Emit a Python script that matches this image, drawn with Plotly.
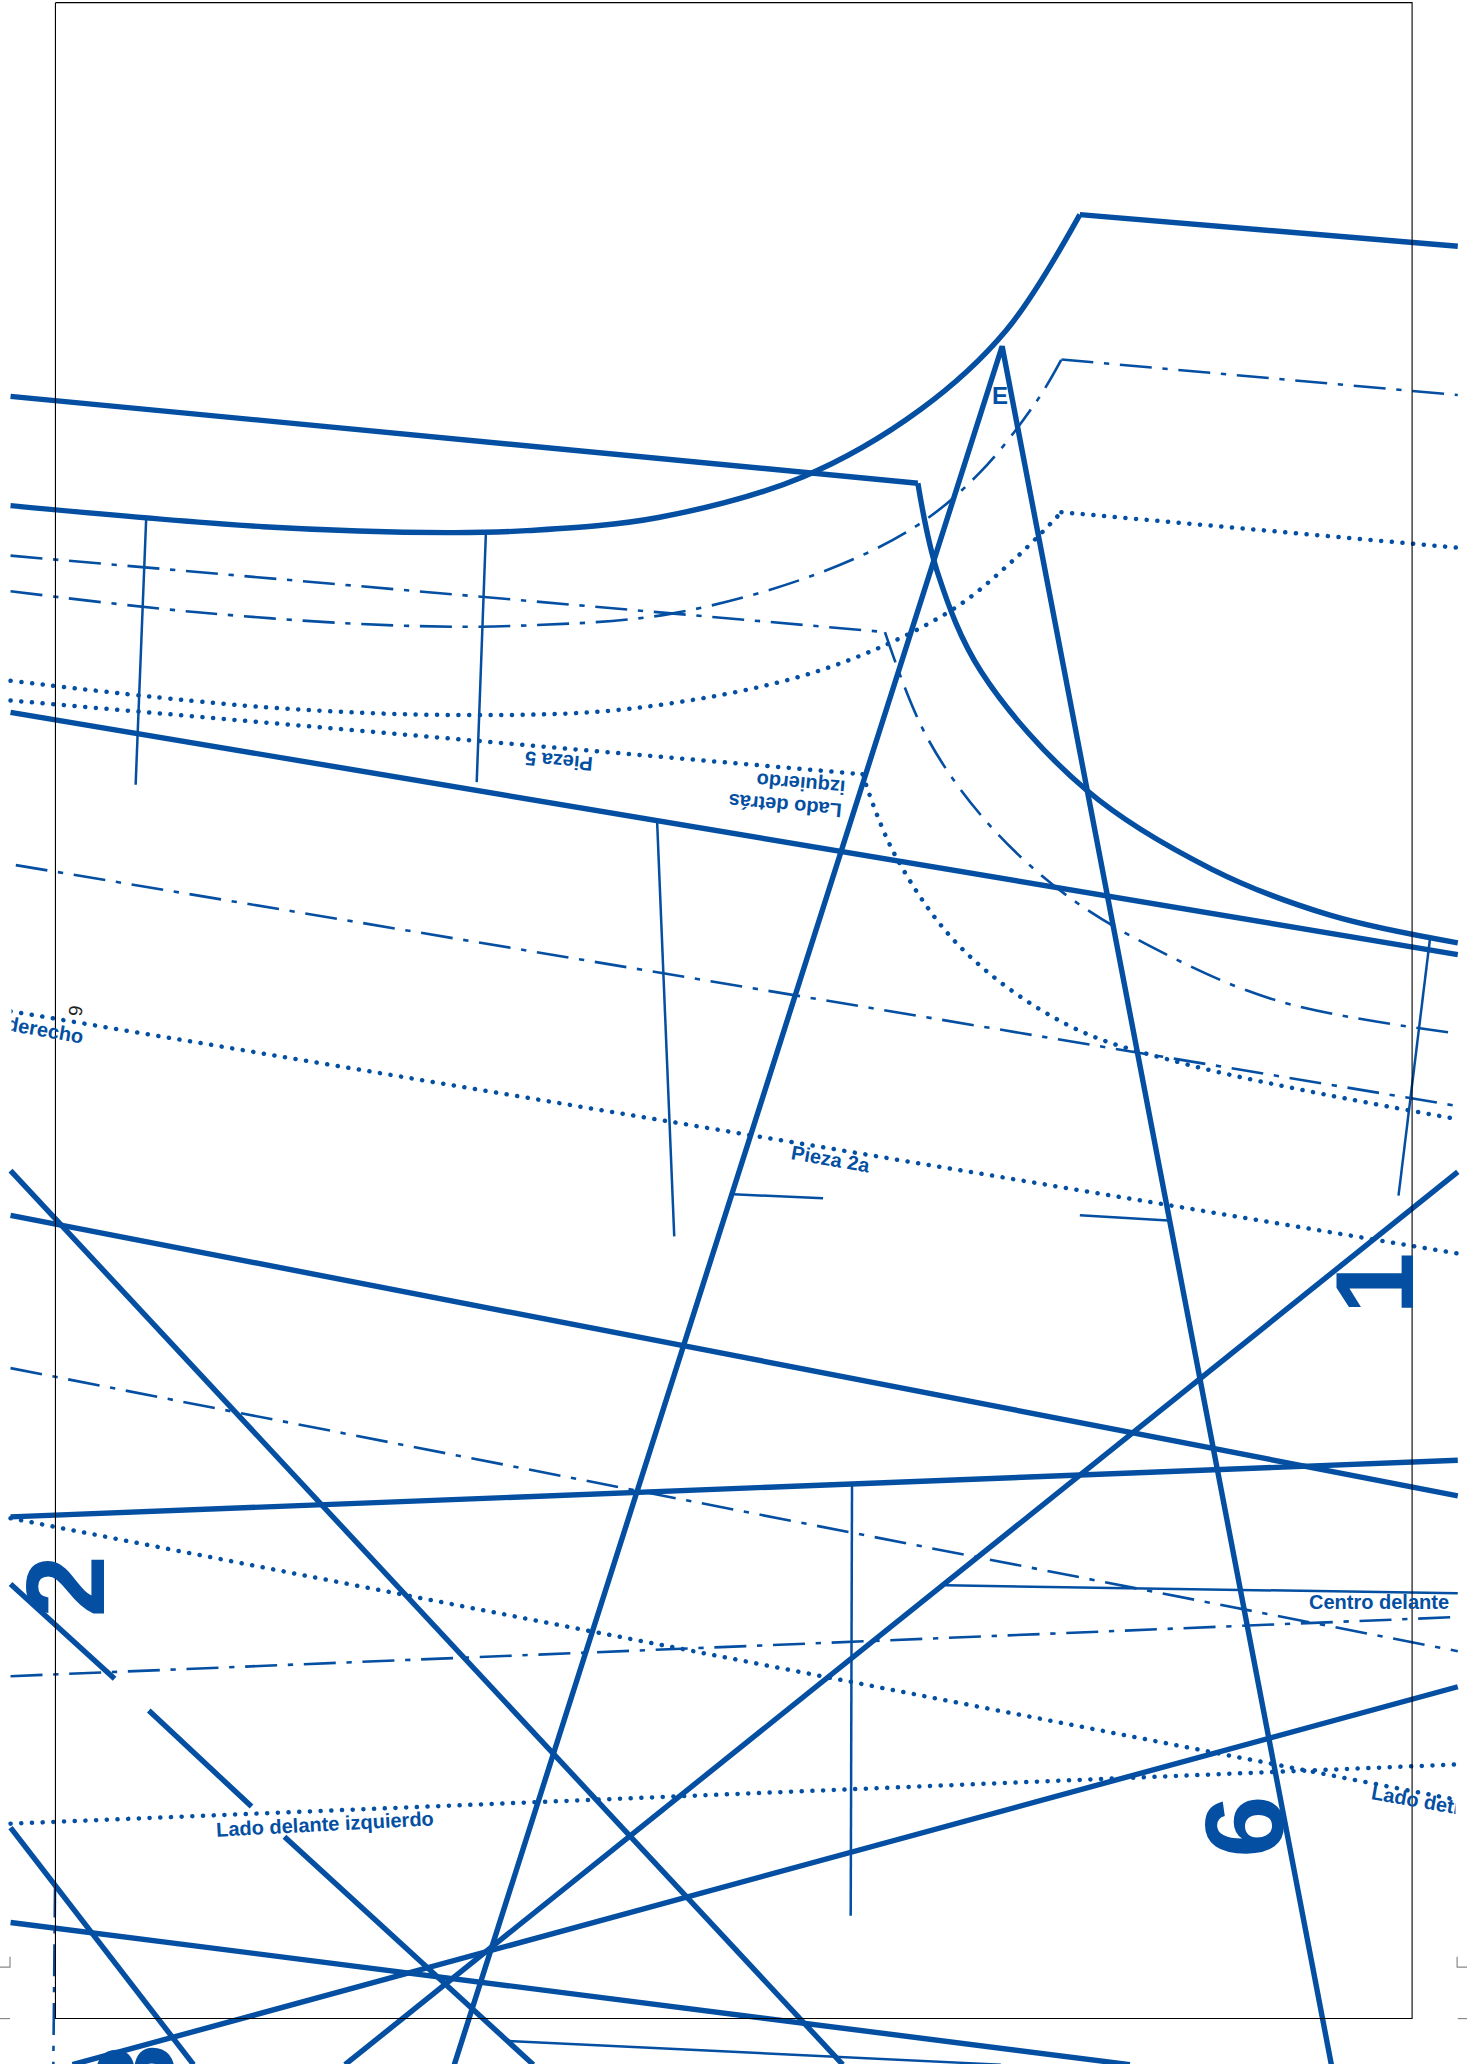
import plotly.graph_objects as go

BLUE = "#044fa2"
WIDTH, HEIGHT = 1467, 2064
X_MAX, Y_MAX = 1114.0, 1567.5

# Solid heavy straight lines: (x values, y values)
heavy_lines = [
    ([1107, 820], [187, 163]),
    ([8, 697], [301, 367]),
    ([8, 1107], [541, 725]),
    ([345, 761, 1011], [1568, 263, 1568]),
    ([8, 1107], [923, 1136]),
    ([8, 640], [889, 1568]),
    ([8, 1107], [1152, 1109]),
    ([1107, 262], [890, 1568]),
    ([1107, 55], [1281, 1568]),
    ([8, 87], [1203, 1275]),
    ([113, 191], [1299, 1372]),
    ([216, 405], [1395, 1568]),
    ([8, 147], [1388, 1568]),
    ([8, 858], [1460, 1568]),
]
# Solid heavy curves
heavy_curves = [
    ([820, 764, 699, 610, 500, 400, 340, 200, 8],
     [163, 251, 311, 362, 393, 403, 404.5, 400, 384]),
    ([697, 712, 745, 825, 920, 1010, 1107],
     [367, 435, 510, 600, 660, 695, 716]),
]

# Thin marker lines
thin_lines = [
    ([111, 103], [394, 596]),
    ([369, 362], [404, 594]),
    ([499, 512], [624, 939]),
    ([557, 625], [907, 910]),
    ([820, 887], [923, 927]),
    ([1086, 1062], [712, 908]),
    ([718, 1107], [1204, 1210]),
    ([647, 646], [1128, 1455]),
    ([385, 760], [1550, 1568]),
]

# Dash-dot seam lines
dashdot_lines = [
    ([8, 672], [422, 480]),
    ([806, 1107], [273, 300]),
    ([12, 1107], [657, 840]),
    ([8, 1107], [1039, 1254]),
    ([8, 1107], [1273, 1228]),
    ([41.8, 40.5], [1432, 1568]),
]
dashdot_curves = [
    ([672, 704, 750, 810, 880, 970, 1107],
     [480, 560, 625, 680, 722, 760, 785]),
    ([8, 150, 300, 400, 510, 620, 695, 744, 787, 806],
     [449, 465, 475, 475, 466, 436, 400, 359, 305, 273]),
]

# Dotted seam lines
dotted_lines = [
    ([806, 1107], [389, 416]),
    ([8, 655], [532, 588]),
    ([8, 1107], [768, 952]),
    ([8, 1107], [1153, 1367]),
    ([8, 1107], [1385, 1340]),
]
dotted_curves = [
    ([8, 200, 350, 480, 620, 720, 770, 806],
     [517, 537, 543, 538, 510, 465, 425, 389]),
    ([655, 680, 730, 810, 900, 1107],
     [588, 650, 720, 778, 808, 850]),
]

# Sheet frame and crop marks
frame_x = [42.1, 1072.3, 1072.3, 42.1, 42.1]
frame_y = [2, 2, 1533, 1533, 2]
crop_marks = [
    ([0, 7.6, 7.6], [1494, 1494, 1486]),
    ([1114, 1106.5, 1106.5], [1494, 1494, 1486]),
    ([0, 7.6], [1533, 1533]),
    ([1107, 1114], [1533, 1533]),
]

# Labels
label_text = ["Pieza 5", "izquierdo", "Lado detrás", "Pieza 2a", "derecho", "6",
              "Lado delante izquierdo", "Centro delante", "Lado detr", "E",
              "1", "2", "6", "3"]
label_x = [424, 608, 596, 631, 34.5, 57.5, 247, 1047, 1075.5, 759, 1044, 50, 945, 103]
label_y = [578, 595, 612, 880, 782, 768, 1385, 1217, 1367, 300, 975, 1205, 1387, 1567]
label_shift = [0, 0, 0, 0, 0, 0, 0, 0, 0, 0, 0, 0, 0, -12]
label_size = [20, 20, 20, 20, 20, 19, 20, 20, 20, 24, 112, 112, 112, 112]
label_angle = [185, 185, 185, 10, 10, 97, -3, 0, 10, 0, -90, -90, -90, -90]
label_bold = [True] * 5 + [False] + [True] * 8
label_color = [BLUE] * 5 + ["#222222"] + [BLUE] * 8

# White strips that trim labels running past the sheet's cut edges
trim_x = [3.5, 1110.5]
trim_y = [780, 1372]

fig = go.Figure()


def add(lines, width, dash="solid", color=BLUE, shape="linear"):
    for xs, ys in lines:
        fig.add_trace(go.Scatter(
            x=xs, y=ys, mode="lines", hoverinfo="skip",
            line=dict(color=color, width=width, dash=dash, shape=shape,
                      smoothing=1.0 if shape == "spline" else None)))


DOT = "0.1px,10.6px"
DASH = "32px,10.7px,5.3px,10.7px"
add(crop_marks, 1.2, color="#888888")
add(dotted_lines, 4.5, DOT)
add(dotted_curves, 4.5, DOT, shape="spline")
add(dashdot_lines, 2.6, DASH)
add(dashdot_curves, 2.6, DASH, shape="spline")
add(thin_lines, 2.5)
add(heavy_lines, 5.4)
add(heavy_curves, 5.4, shape="spline")
add([(frame_x, frame_y)], 1.1, color="#000000")

for t, x, y, sh, s, a, b, c in zip(label_text, label_x, label_y, label_shift, label_size,
                                   label_angle, label_bold, label_color):
    fig.add_annotation(text=f"<b>{t}</b>" if b else t, x=x, y=y, yshift=sh, xref="x", yref="y",
                       showarrow=False, textangle=a,
                       font=dict(family="Liberation Sans", size=s, color=c),
                       xanchor="center", yanchor="middle")

for x, y in zip(trim_x, trim_y):
    fig.add_annotation(text=" ", x=x, y=y, xref="x", yref="y", showarrow=False,
                       bgcolor="white", width=10, height=34, font=dict(size=10))

fig.update_layout(
    width=WIDTH, height=HEIGHT, margin=dict(l=0, r=0, t=0, b=0),
    paper_bgcolor="white", plot_bgcolor="white", showlegend=False,
    xaxis=dict(range=[0, X_MAX], visible=False, fixedrange=True),
    yaxis=dict(range=[Y_MAX, 0], visible=False, fixedrange=True),
)
fig.write_html(
    "out.html", config={"displayModeBar": False},
    post_script="document.body.style.margin='0';"
                "document.querySelectorAll('path.js-line').forEach(function(p){"
                "if((p.style.strokeDasharray||'').indexOf('0.1')===0){p.style.strokeLinecap='round';}});")
